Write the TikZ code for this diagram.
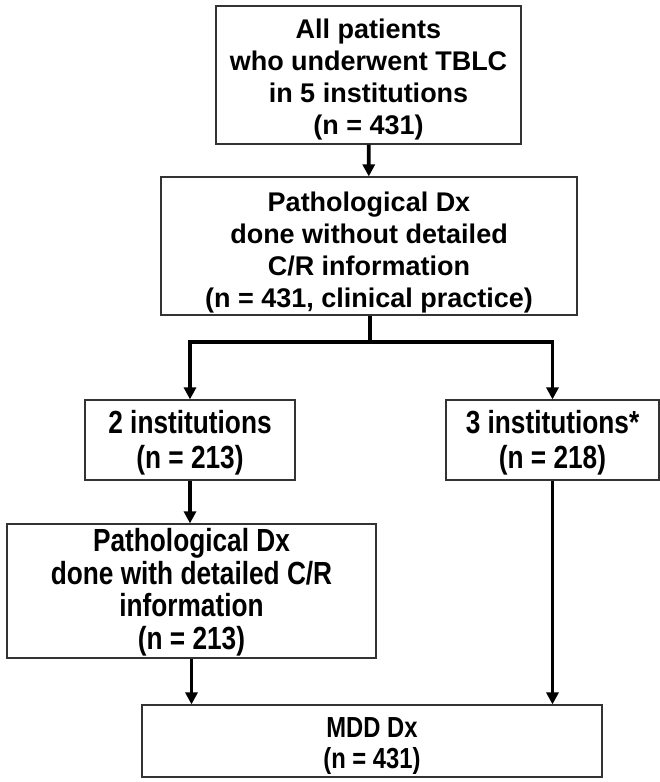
\documentclass[tikz,border=0pt]{standalone}
\usepackage{fontspec}
\setmainfont{Liberation Sans}
\newfontfamily\narrowfont[FakeStretch=0.82]{Liberation Sans}
\usetikzlibrary{arrows.meta}
\begin{document}
\begin{tikzpicture}[x=1pt,y=-1pt,
  box/.style={draw=black!80, line width=1.2pt, rectangle, inner sep=0pt},
  toptxt/.style={align=center, inner sep=0pt, font=\bfseries\fontsize{27}{32}\selectfont},
  lowtxt/.style={align=center, inner sep=0pt, font=\narrowfont\bfseries\fontsize{32}{35}\selectfont},
  conn/.style={line width=3.6pt, -{Triangle[length=12pt,width=12pt]}},
  plain/.style={line width=3.6pt}
]
\useasboundingbox[fill=white] (0,0) rectangle (660,782);
\node[box, minimum width=305pt, minimum height=138pt,
  label={[toptxt, yshift=-5pt]center:{All patients\\who underwent TBLC\\in 5 institutions\\(n = 431)}}] (all) at (368.5,75) {};
\node[box, minimum width=416pt, minimum height=138pt,
  label={[toptxt, yshift=-7pt]center:{Pathological Dx\\done without detailed\\C/R information\\(n = 431, clinical practice)}}] (path1) at (369,246) {};
\node[box, minimum width=210pt, minimum height=80pt,
  label={[lowtxt, yshift=-3pt]center:{2 institutions\\(n = 213)}}] (two) at (190,440) {};
\node[box, minimum width=213pt, minimum height=80pt,
  label={[lowtxt, yshift=-3pt]center:{3 institutions*\\(n = 218)}}] (three) at (552.5,440) {};
\node[box, minimum width=369pt, minimum height=134pt,
  label={[lowtxt, font=\narrowfont\bfseries\fontsize{32}{32.5}\selectfont, yshift=-1pt]center:{Pathological Dx\\done with detailed C/R\\information\\(n = 213)}}] (path2) at (191.5,591) {};
\node[box, minimum width=460pt, minimum height=72pt,
  label={[lowtxt, font=\narrowfont\bfseries\fontsize{29}{31}\selectfont, yshift=-5pt]center:{MDD Dx\\(n = 431)}}] (mdd) at (372,741) {};
\coordinate (split) at (370,342);
\draw[conn] (all) -- (path1);
\draw[plain] (path1.south -| split) -- (split);
\draw[conn] ([xshift=1.8pt]split) -| (two.north);
\draw[conn] ([xshift=-1.8pt]split) -| (three.north);
\draw[conn] (two.south) -- (two.south |- path2.north);
\draw[conn] (path2.south) -- (path2.south |- mdd.north);
\draw[conn] (three.south) -- (three.south |- mdd.north);
\end{tikzpicture}
\end{document}
